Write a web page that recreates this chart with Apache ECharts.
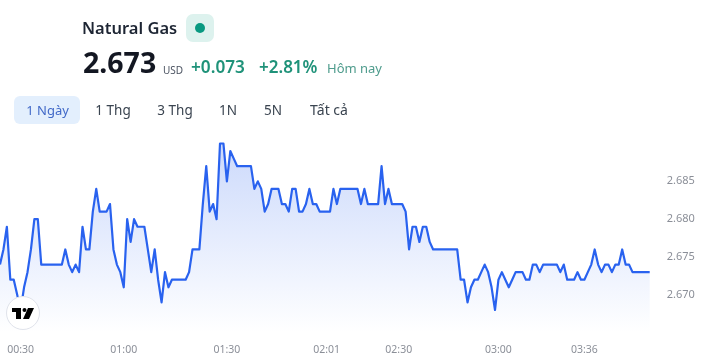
<!DOCTYPE html>
<html><head><meta charset="utf-8">
<style>html,body{margin:0;padding:0;background:#fff}#c{width:703px;height:362px}</style>
<script src="https://cdn.jsdelivr.net/npm/echarts@6/dist/echarts.min.js"></script>
</head><body><div id="c"></div>
<script>
const prices = [
2.674,2.676,2.679,2.672,2.672,2.670,2.668,2.671,2.673,2.676,2.680,2.680,2.674,2.674,2.674,2.674,2.674,2.674,2.674,2.676,2.674,2.673,2.674,2.673,2.679,2.676,2.676,2.681,2.684,2.681,2.681,2.681,2.682,2.676,2.674,2.673,2.671,2.680,2.677,2.680,2.679,2.679,2.679,2.676,2.673,2.676,2.672,2.669,2.673,2.671,2.672,2.672,2.672,2.672,2.672,2.673,2.676,2.676,2.676,2.682,2.687,2.681,2.682,2.680,2.690,2.690,2.685,2.689,2.688,2.687,
2.687,2.687,2.687,2.687,2.684,2.685,2.684,2.681,2.682,2.684,2.684,2.684,2.682,2.682,2.681,2.684,2.684,2.681,2.681,2.682,2.684,2.682,2.682,2.681,2.681,2.681,2.681,2.684,2.682,2.684,2.684,2.684,2.684,2.684,2.684,2.682,2.684,2.682,2.682,2.682,2.682,2.687,2.682,2.684,2.682,2.682,2.682,2.682,2.681,2.676,2.679,2.679,2.677,
2.679,2.679,2.677,2.676,2.676,2.676,2.676,2.676,2.676,2.676,2.676,2.672,2.672,2.669,2.671,2.672,2.672,2.673,2.674,2.673,2.671,2.668,2.672,2.673,2.672,2.671,2.672,2.673,2.673,2.673,2.672,2.672,2.674,2.674,2.673,2.674,2.674,2.674,2.674,2.674,2.673,2.674,2.672,2.672,2.672,2.673,2.672,2.672,2.673,2.674,2.676,2.674,2.673,2.674,2.674,2.673,2.674,2.674,2.676,2.674,2.674,2.673,2.673,2.673,2.673,2.673,2.673];
const tickLabels = ["00:30","01:00","01:30","02:01","02:30","03:00","03:36"];
const tickIndexes = [6,36,66,95,116,145,170];
const priceTicks = [2.670,2.675,2.680,2.685];
const categories = prices.map((_, i) => { const k = tickIndexes.indexOf(i); return k >= 0 ? tickLabels[k] : "t" + i; });
const font = '"Noto Sans", sans-serif';
const txt = (x, y, text, size, fill, weight, align) => ({type:'text', x, y, style:{text, font:`${weight||400} ${size}px ${font}`, fill, textAlign:align||'left', textVerticalAlign:'middle'}});
const ranges = [["1 Ngày",47.5,13],["1 Thg",113,13.5],["3 Thg",175,13.5],["1N",228,13.5],["5N",273,13.5],["Tất cả",329,14]];
const chart = echarts.init(document.getElementById('c'), null, {renderer:'canvas'});
chart.setOption({
  animation:false,
  backgroundColor:'#fff',
  grid:{left:0,right:53.3,top:143.5,height:189.2,containLabel:false},
  xAxis:{type:'category',boundaryGap:false,data:categories,
    axisLine:{show:false},axisTick:{show:false},splitLine:{show:false},
    axisLabel:{margin:12,color:'#8b8f98',fontSize:10.5,fontFamily:font,hideOverlap:false,
      interval:(i)=>tickIndexes.includes(i)}},
  yAxis:{type:'value',position:'right',min:2.665,max:2.690,
    axisLine:{show:false},axisTick:{show:false},splitLine:{show:false},
    axisLabel:{margin:17,color:'#8b8f98',fontSize:11,fontFamily:font,padding:[4,0,0,0],customValues:priceTicks,formatter:v=>v.toFixed(3)}},
  series:[{type:'line',data:prices,symbol:'none',smooth:false,clip:false,
    lineStyle:{color:'#2962ef',width:2.2,join:'round'},
    areaStyle:{color:new echarts.graphic.LinearGradient(0,0,0,1,[{offset:0,color:'rgba(41,98,239,0.34)'},{offset:1,color:'rgba(41,98,239,0)'}])}}],
  graphic:[
    txt(82,29,'Natural Gas',16.5,'#1d2533',600),
    {type:'rect',shape:{x:186,y:14,width:28,height:28,r:7},style:{fill:'#ddf2ee'}},
    {type:'circle',shape:{cx:200,cy:28,r:5},style:{fill:'#089981'}},
    txt(83,65,'2.673',28.5,'#131722',700),
    txt(163,71,'USD',10,'#4a5260',400),
    txt(191,68,'+0.073',17.2,'#1f9279',600),
    txt(259,68,'+2.81%',17,'#1f9279',600),
    txt(327,69,'Hôm nay',13,'#4f9c8d',400),
    {type:'rect',shape:{x:14,y:96,width:66,height:28,r:6},style:{fill:'#e3effd'}},
    ...ranges.map((r,i)=>txt(r[1],111,r[0],r[2],i===0?'#4169c8':'#3a4450',400,'center')),
    {type:'circle',shape:{cx:23,cy:313,r:16.5},style:{fill:'#fff',stroke:'#e0e3eb',lineWidth:1},z:100},
    {type:'polygon',shape:{points:[[12,308],[21,308],[21,319],[16,319],[16,312],[12,312]]},style:{fill:'#000'},z:101},
    {type:'circle',shape:{cx:24.5,cy:310,r:2},style:{fill:'#000'},z:101},
    {type:'polygon',shape:{points:[[28,308],[34,308],[29,319],[23,319]]},style:{fill:'#000'},z:101}
  ]
});
</script></body></html>
